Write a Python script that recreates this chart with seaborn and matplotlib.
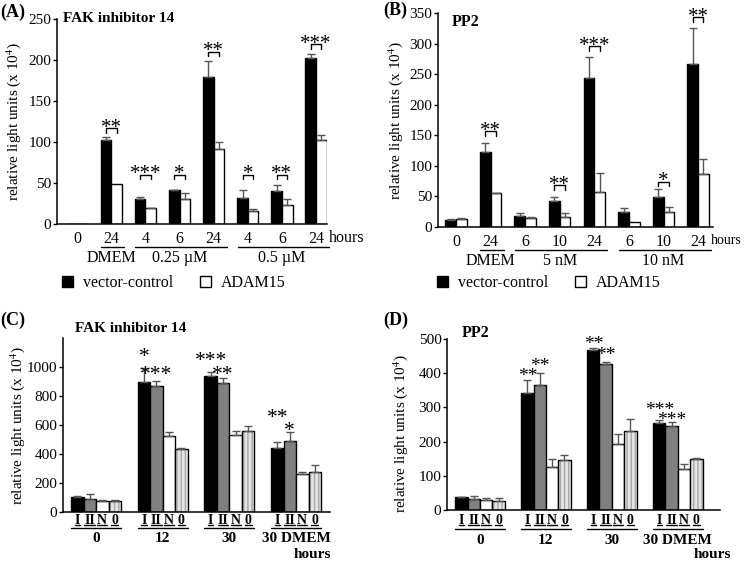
import numpy as np
import pandas as pd
import seaborn as sns
import matplotlib.pyplot as plt
import matplotlib.transforms as mtransforms
from matplotlib.lines import Line2D
from matplotlib.patches import Patch, Rectangle

# (A) FAK inhibitor 14: vector-control vs ADAM15
a_hours = ["0", "24", "4", "6", "24", "4", "6", "24"]
a_ctrl = [0, 103, 30, 41, 179, 32, 40, 202]
a_ctrl_err = [0, 3, 3, 1, 20, 10, 7, 5]
a_adam = [0, 49, 19, 31, 91, 16, 23, 102]
a_adam_err = [0, 0, 1, 7, 9, 2, 7, 6]
a_sig = ["", "**", "***", "*", "**", "*", "**", "***"]
a_sig_y = [np.nan, 117, 60, 60, 210, 60, 60, 219]
a_treat = ["DMEM", "0.25 µM", "0.5 µM"]
a_treat_first = [1, 2, 5]
a_treat_last = [1, 4, 7]

# (B) PP2: vector-control vs ADAM15
b_hours = ["0", "24", "6", "10", "24", "6", "10", "24"]
b_ctrl = [12, 123, 18, 42, 243, 24, 49, 266]
b_ctrl_err = [1, 15, 5, 7, 35, 7, 13, 59]
b_adam = [13, 55, 14, 17, 57, 8, 24, 87]
b_adam_err = [1, 1, 3, 6, 31, 0, 9, 24]
b_sig = ["", "**", "", "**", "***", "", "*", "**"]
b_sig_y = [np.nan, 157, np.nan, 68, 296, np.nan, 74, 343]
b_treat = ["DMEM", "5 nM", "10 nM"]
b_treat_first = [1, 2, 5]
b_treat_last = [1, 4, 7]

# (C) FAK inhibitor 14, clones
clones = ["I", "II", "N", "0"]
times = ["0", "12", "30", "30 DMEM"]
c_I = [106, 896, 936, 441]
c_II = [90, 867, 887, 490]
c_N = [74, 526, 533, 262]
c_0 = [74, 434, 556, 278]
c_I_err = [4, 97, 32, 39]
c_II_err = [34, 39, 39, 62]
c_N_err = [11, 26, 23, 12]
c_0_err = [9, 7, 39, 48]
c_I_sig = ["", "*", "***", "**"]
c_I_sig_y = [np.nan, 1105, 1078, 683]
c_II_sig = ["", "***", "**", "*"]
c_II_sig_y = [np.nan, 986, 982, 598]

# (D) PP2, clones
d_I = [37, 342, 467, 253]
d_II = [32, 366, 428, 247]
d_N = [29, 125, 193, 121]
d_0 = [26, 146, 232, 148]
d_I_err = [2, 37, 8, 10]
d_II_err = [9, 34, 4, 11]
d_N_err = [5, 23, 29, 13]
d_0_err = [10, 15, 33, 5]
d_I_sig = ["", "**", "**", "***"]
d_I_sig_y = [np.nan, 408, 501, 309]
d_II_sig = ["", "**", "**", "***"]
d_II_sig_y = [np.nan, 438, 469, 279]

sns.set_theme(style="ticks", rc={"axes.edgecolor": "black", "text.color": "black",
                                  "xtick.color": "black", "ytick.color": "black",
                                  "axes.labelcolor": "black", "axes.linewidth": 1.1})
plt.rcParams["font.family"] = ["Liberation Serif", "DejaVu Serif"]
plt.rcParams["mathtext.fontset"] = "stix"

W, H = 745, 562
fig = plt.figure(figsize=(W / 100, H / 100), dpi=100)


def px_axes(left, top, right, bottom):
    return fig.add_axes([left / W, 1 - bottom / H, (right - left) / W, (bottom - top) / H])


def below(ax, px):
    # x in data, y = px pixels under the x axis
    return mtransforms.offset_copy(ax.get_xaxis_transform(), fig=fig, y=-px, units="dots")


def centers(cont):
    return [b.get_x() + b.get_width() / 2 for b in cont]


def add_errors(ax, errs):
    for cont, err in zip(ax.containers, errs):
        xs = np.array(centers(cont))
        tops = np.array([b.get_height() for b in cont])
        err = np.array(err, dtype=float)
        keep = err > 0
        ax.errorbar(xs[keep], tops[keep], yerr=[np.zeros(keep.sum()), err[keep]], fmt="none",
                    ecolor="#555555", elinewidth=1, capsize=3, capthick=1)


def style_axis(ax, ymax, ystep, xlim, ytop=None):
    sns.despine(ax=ax)
    ax.set_ylim(0, ymax)
    ax.set_yticks(np.arange(0, (ytop or ymax) + 1, ystep))
    ax.set_xlim(*xlim)
    ax.tick_params(axis="y", length=3, width=1, labelsize=11, pad=1)
    ax.tick_params(axis="x", length=0)
    ax.set_xlabel("")
    ax.set_ylabel("relative light units (x 10$^4$)", fontsize=11)


def pair_panel(ax, hours, ctrl, ctrl_err, adam, adam_err, sig, sig_y, treat, first, last,
               ymax, xlim, hours_size):
    n = len(hours)
    df = pd.DataFrame({"slot": list(range(n)) * 2, "value": ctrl + adam,
                       "line": ["vector-control"] * n + ["ADAM15"] * n})
    sns.barplot(data=df, x="slot", y="value", hue="line", palette=["black", "white"],
                width=0.62, edgecolor="black", linewidth=1, saturation=1, errorbar=None,
                legend=False, ax=ax)
    add_errors(ax, [ctrl_err, adam_err])
    style_axis(ax, ymax, 50, xlim)
    ax.set_xticks(range(n))
    ax.set_xticklabels(hours, fontsize=11.5)
    ax.tick_params(axis="x", pad=5)
    ax.text(n - 1 + 0.38, 0, "hours", fontsize=hours_size, ha="left", va="center",
            transform=below(ax, 14))
    # significance brackets
    xa, xb = centers(ax.containers[0]), centers(ax.containers[1])
    d = ymax * 0.022
    for i, (s, y) in enumerate(zip(sig, sig_y)):
        if not s:
            continue
        ax.plot([xa[i], xa[i], xb[i], xb[i]], [y - d, y, y, y - d], color="black", lw=1,
                clip_on=False)
        ax.text((xa[i] + xb[i]) / 2, y, s, ha="center", va="center", fontsize=15,
                clip_on=False)
    # treatment groups under the hours
    for name, f, l in zip(treat, first, last):
        ax.plot([f - 0.3, l + 0.38], [0, 0], color="black", lw=1, clip_on=False,
                transform=below(ax, 23))
        ax.text((f + l) / 2, 0, name, ha="center", va="center", fontsize=11.5,
                transform=below(ax, 34))


underline_texts = []


def clone_panel(ax, vals, errs, sig_rows, ymax, ystep, ytop, xlim, offs, star_size):
    df = pd.DataFrame({"time": [t for _ in clones for t in times],
                       "clone": [c for c in clones for _ in times],
                       "value": [v for row in vals for v in row]})
    sns.barplot(data=df, x="time", y="value", hue="clone", order=times, hue_order=clones,
                palette=["black", "#808080", "white", "#e4e4e4"], width=0.75,
                edgecolor="black", linewidth=1, saturation=1, errorbar=None, legend=False,
                ax=ax)
    for bar in ax.containers[3]:
        bar.set_hatch("||||")
        bar.set_edgecolor("#a8a8a8")
        bar.set_linewidth(0)
        ax.add_patch(Rectangle(bar.get_xy(), bar.get_width(), bar.get_height(), fill=False,
                               ec="black", lw=1, zorder=bar.get_zorder() + 0.1))
    add_errors(ax, errs)
    style_axis(ax, ymax, ystep, xlim, ytop)
    ax.set_xticks([])
    # stars over clone I and II bars
    for cont, (sig, sig_y) in zip(ax.containers[:2], sig_rows):
        for x, s, y in zip(centers(cont), sig, sig_y):
            if s:
                ax.text(x, y, s, ha="center", va="center", fontsize=star_size, clip_on=False,
                        transform=mtransforms.offset_copy(ax.transData, fig=fig, y=-6,
                                                          units="dots"))
    sub, line, lab = offs
    for cont, name in zip(ax.containers[:4], clones):
        for x in centers(cont):
            t = ax.text(x, 0, name, ha="center", va="center", fontsize=10,
                        fontweight="bold", transform=below(ax, sub))
            underline_texts.append(t)
    for j, t in enumerate(times):
        left = ax.containers[0][j].get_x()
        right = ax.containers[3][j].get_x() + ax.containers[3][j].get_width()
        ax.plot([left, right], [0, 0], color="black", lw=1, clip_on=False,
                transform=below(ax, line))
        ax.text((left + right) / 2, 0, t, ha="center", va="center", fontsize=11,
                fontweight="bold", transform=below(ax, lab))


ax_a = px_axes(57, 19, 327, 224)
pair_panel(ax_a, a_hours, a_ctrl, a_ctrl_err, a_adam, a_adam_err, a_sig, a_sig_y,
           a_treat, a_treat_first, a_treat_last, 250, (-0.59, 7.32), 11.5)
ax_a.yaxis.set_label_coords(-0.126, 0.5)

ax_b = px_axes(438, 13, 713, 227)
pair_panel(ax_b, b_hours, b_ctrl, b_ctrl_err, b_adam, b_adam_err, b_sig, b_sig_y,
           b_treat, b_treat_first, b_treat_last, 350, (-0.52, 7.43), 10)
ax_b.yaxis.set_label_coords(-0.12, 0.5)

ax_c = px_axes(63, 338, 330, 512)
clone_panel(ax_c, [c_I, c_II, c_N, c_0], [c_I_err, c_II_err, c_N_err, c_0_err],
            [(c_I_sig, c_I_sig_y), (c_II_sig, c_II_sig_y)], 1200, 200, 1000,
            (-0.495, 3.51), (8, 16, 27), 15.5)
ax_c.text(3.25, 0, "hours", ha="center", va="center", fontsize=11, fontweight="bold",
          transform=below(ax_c, 43))
ax_c.yaxis.set_label_coords(-0.135, 0.5)

ax_d = px_axes(447, 339, 720, 510)
clone_panel(ax_d, [d_I, d_II, d_N, d_0], [d_I_err, d_II_err, d_N_err, d_0_err],
            [(d_I_sig, d_I_sig_y), (d_II_sig, d_II_sig_y)], 500, 100, 500,
            (-0.5, 3.64), (10, 19, 30), 14)
ax_d.text(3.52, 0, "hours", ha="center", va="center", fontsize=11, fontweight="bold",
          transform=below(ax_d, 45))
ax_d.yaxis.set_label_coords(-0.135, 0.45)

# legends under the top panels
handles = [Patch(facecolor="black", edgecolor="black"),
           Patch(facecolor="white", edgecolor="black", linewidth=1)]
for lx in (62, 437):
    fig.legend(handles, ["vector-control", "ADAM15"], loc="center left",
               bbox_to_anchor=(lx / W, 1 - 283 / H), ncol=2, frameon=False, fontsize=11.5,
               handlelength=0.7, handleheight=0.7, handletextpad=0.6, columnspacing=1.7,
               borderpad=0, borderaxespad=0)

# panel letters and titles
fig.text(0 / W, 1 - 12 / H, "(A)", fontsize=13, fontweight="bold", va="center")
fig.text(63 / W, 1 - 18 / H, "FAK inhibitor 14", fontsize=11, fontweight="bold", va="center")
fig.text(383 / W, 1 - 10 / H, "(B)", fontsize=13, fontweight="bold", va="center")
fig.text(452 / W, 1 - 22 / H, "PP2", fontsize=11.5, fontweight="bold", va="center")
fig.text(0 / W, 1 - 320 / H, "(C)", fontsize=13, fontweight="bold", va="center")
fig.text(75 / W, 1 - 329 / H, "FAK inhibitor 14", fontsize=11, fontweight="bold", va="center")
fig.text(383 / W, 1 - 320 / H, "(D)", fontsize=13, fontweight="bold", va="center")
fig.text(462 / W, 1 - 333 / H, "PP2", fontsize=11.5, fontweight="bold", va="center")

# underline the clone labels
fig.canvas.draw()
inv = fig.transFigure.inverted()
for t in underline_texts:
    bb = t.get_window_extent()
    (x0, y0), (x1, _) = inv.transform([(bb.x0, bb.y0 + 1.5), (bb.x1, bb.y0 + 1.5)])
    fig.add_artist(Line2D([x0, x1], [y0, y0], color="black", lw=1, transform=fig.transFigure))

fig.savefig("out.png", dpi=100)
